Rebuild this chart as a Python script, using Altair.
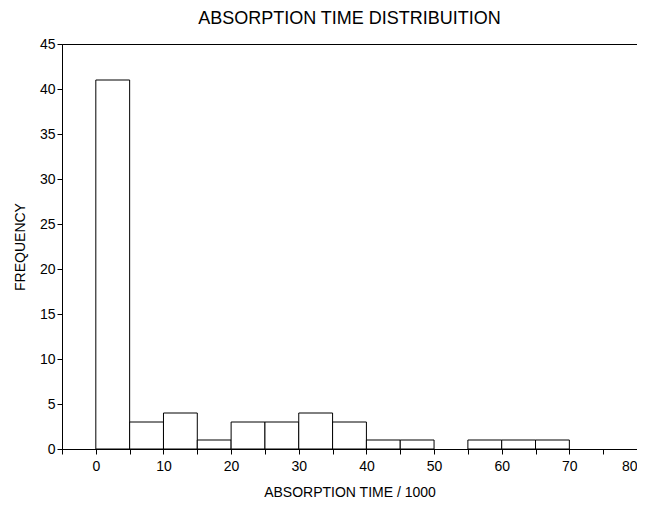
import altair as alt
import pandas as pd

bin_start = [0, 5, 10, 15, 20, 25, 30, 35, 40, 45, 50, 55, 60, 65]
bin_end = [5, 10, 15, 20, 25, 30, 35, 40, 45, 50, 55, 60, 65, 70]
frequency = [41, 3, 4, 1, 3, 3, 4, 3, 1, 1, 0, 1, 1, 1]

df = pd.DataFrame({"start": bin_start, "end": bin_end, "freq": frequency})
df = df[df["freq"] > 0]

x_ticks = list(range(-5, 81, 5))
y_ticks = list(range(0, 46, 5))

FONT = "Liberation Sans"

chart = (
    alt.Chart(df)
    .mark_bar(fill="white", stroke="black", strokeWidth=1)
    .encode(
        x=alt.X(
            "start:Q",
            scale=alt.Scale(domain=[-5, 80], nice=False, zero=False),
            axis=alt.Axis(
                values=x_ticks,
                labelExpr="datum.value % 10 == 0 ? datum.label : ''",
                title="ABSORPTION TIME / 1000",
                grid=False,
                tickSize=5,
                labelPadding=5,
                titlePadding=12,
                labelFlush=True,
                labelOverlap=False,
            ),
        ),
        x2="end:Q",
        y=alt.Y(
            "freq:Q",
            scale=alt.Scale(domain=[0, 45], nice=False),
            axis=alt.Axis(
                values=y_ticks,
                title="FREQUENCY",
                grid=False,
                tickSize=5,
                labelPadding=2,
                titlePadding=12,
                labelFlush=False,
                labelOverlap=False,
            ),
        ),
        y2=alt.datum(0),
    )
    .properties(
        width=575,
        height=405,
        title=alt.TitleParams(
            "ABSORPTION TIME DISTRIBUITION",
            fontSize=18,
            font=FONT,
            fontWeight="normal",
            color="black",
            anchor="middle",
            offset=9,
        ),
        autosize=alt.AutoSizeParams(type="none"),
        padding={"left": 54, "top": 36, "right": 0, "bottom": 56},
        background="white",
    )
    .configure_view(stroke="black", strokeWidth=1)
    .configure_axis(
        domainColor="black",
        tickColor="black",
        labelColor="black",
        titleColor="black",
        labelFont=FONT,
        titleFont=FONT,
        labelFontSize=14,
        titleFontSize=14,
        titleFontWeight="normal",
    )
)

chart.save("out.html", embed_options={"renderer": "svg", "actions": False})
